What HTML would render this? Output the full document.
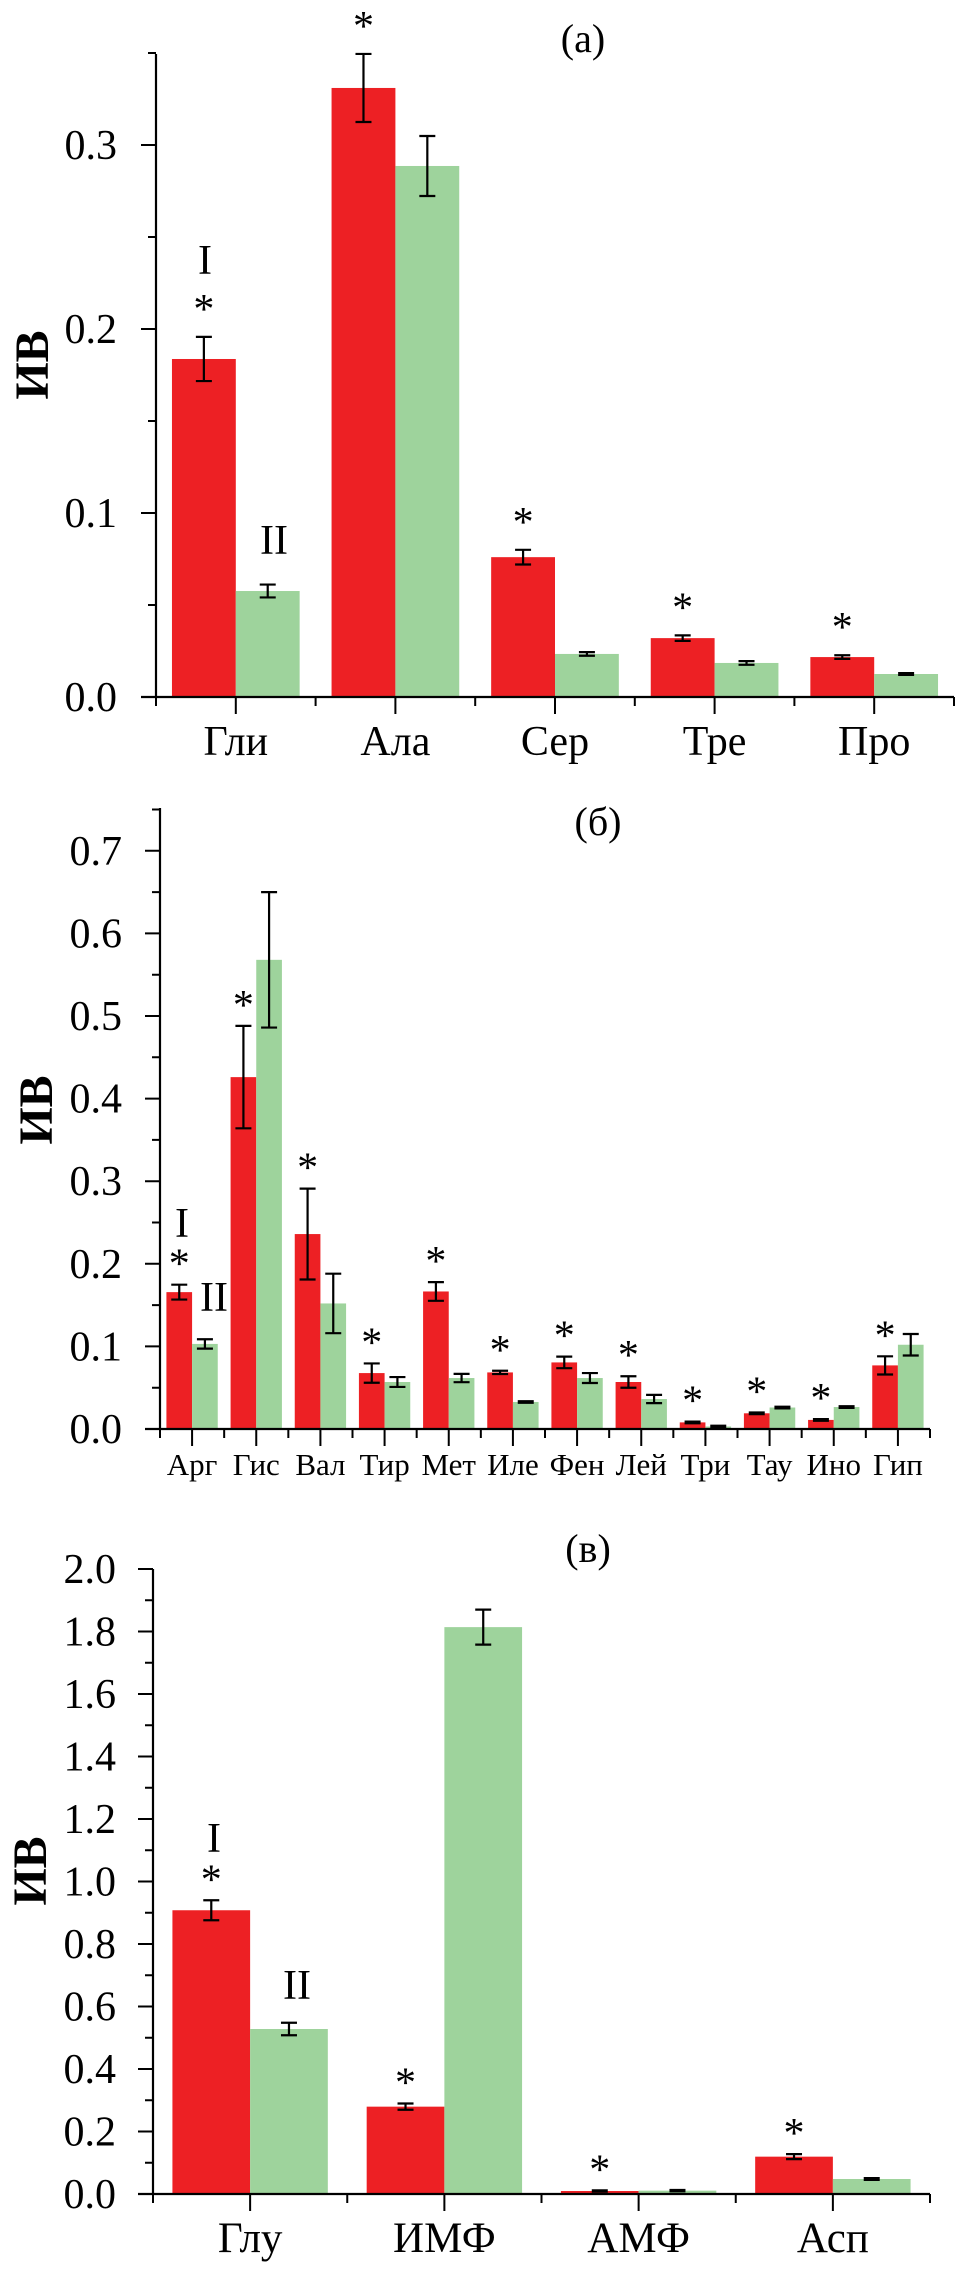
<!DOCTYPE html>
<html><head><meta charset="utf-8"><style>
body{margin:0;background:#fff}
svg text{font-family:"Liberation Serif",serif;fill:#000}
</style></head><body>
<svg id="fig" xmlns="http://www.w3.org/2000/svg" width="959" height="2269" viewBox="0 0 959 2269"></svg>
<script>
// Panel (a)
const catsA = ["Гли","Ала","Сер","Тре","Про"];
const redA = [0.1837,0.331,0.076,0.032,0.0217];
const redErrA = [0.012,0.0185,0.004,0.0015,0.001];
const greenA = [0.0576,0.2886,0.0234,0.0185,0.0125];
const greenErrA = [0.0035,0.0163,0.001,0.001,0.0005];
const starA = [1,1,1,1,1];
const ticksA = ["0.0","0.1","0.2","0.3"];
// Panel (б)
const catsB = ["Арг","Гис","Вал","Тир","Мет","Иле","Фен","Лей","Три","Тау","Ино","Гип"];
const redB = [0.1657,0.426,0.236,0.0677,0.1665,0.0685,0.0806,0.0569,0.008,0.019,0.011,0.077];
const redErrB = [0.009,0.062,0.055,0.0117,0.0113,0.002,0.007,0.007,0.001,0.001,0.001,0.011];
const greenB = [0.103,0.568,0.152,0.0569,0.0617,0.0327,0.0617,0.0363,0.003,0.026,0.0266,0.102];
const greenErrB = [0.0057,0.082,0.036,0.006,0.005,0.001,0.006,0.005,0.001,0.001,0.001,0.013];
const starB = [1,1,1,1,1,1,1,1,1,1,1,1];
const ticksB = ["0.0","0.1","0.2","0.3","0.4","0.5","0.6","0.7"];
// Panel (в)
const catsC = ["Глу","ИМФ","АМФ","Асп"];
const redC = [0.908,0.2795,0.0096,0.1195];
const redErrC = [0.032,0.01,0.002,0.008];
const greenC = [0.528,1.814,0.0107,0.048];
const greenErrC = [0.02,0.056,0.002,0.003];
const starC = [1,1,1,1];
const ticksC = ["0.0","0.2","0.4","0.6","0.8","1.0","1.2","1.4","1.6","1.8","2.0"];

const NS="http://www.w3.org/2000/svg";
const svg=document.getElementById('fig');
function mk(tag,attrs,parent){const e=document.createElementNS(NS,tag);for(const k in attrs)e.setAttribute(k,attrs[k]);(parent||svg).appendChild(e);return e;}
function txt(s,attrs,parent){const e=mk('text',attrs,parent);e.textContent=s;return e;}

function panel(o){
  const g=mk('g',{});
  
  
  const y=v=>o.y0-(v/o.tickStep)*o.tickPx;
  const n=o.cats.length, gw=(o.x1-o.x0)/n;
  const xs=i=>o.x0+gw*i;
  for(let i=0;i<n;i++){
    const bw=gw*0.4;
    const rx=xs(i)+gw*0.1, gx=rx+bw;
    const r=mk('rect',{x:rx,y:y(o.red[i]),width:bw,height:o.y0-y(o.red[i]),fill:'#ED2024'},g);
    
    
    const gr=mk('rect',{x:gx,y:y(o.green[i]),width:bw,height:o.y0-y(o.green[i]),fill:'#9ED39C'},g);
    
    
    [[rx,o.red[i],o.redErr[i]],[gx,o.green[i],o.greenErr[i]]].forEach(([bx,v,e])=>{
      const cx=bx+bw/2, t=y(v+e), b=y(v-e), cw=Math.min(8,bw*0.35);
      const eb=mk('path',{d:`M${cx},${t}V${b}M${cx-cw},${t}H${cx+cw}M${cx-cw},${b}H${cx+cw}`,stroke:'#000','stroke-width':2.2,fill:'none'},g);
      
      
    });
    if(o.star[i]){
      const st=txt('*',{x:rx+bw/2,y:y(o.red[i]+o.redErr[i])-o.starGap+21,'font-size':42,'text-anchor':'middle'},g);
      
      
    }
    const lb=txt(o.cats[i],{x:xs(i)+gw/2,y:o.labY,'font-size':o.labFs,'text-anchor':'middle'},g);
    
    
  }
  const ax=mk('path',{d:`M${o.x0},${o.yTop}V${o.y0+1}M${o.x0-15},${o.y0}H${o.x1}`,stroke:'#000','stroke-width':2.2,fill:'none'},g);
  
  
  let d='';
  for(let i=0;i<=n;i++)d+=`M${xs(i)},${o.y0}v9`;
  for(let i=0;i<n;i++)d+=`M${xs(i)+gw/2},${o.y0}v17`;
  o.ticks.forEach((t,k)=>{const ty=y(parseFloat(t));d+=`M${o.x0},${ty}h-15`;
    const mt=y(parseFloat(t)+o.tickStep/2); if(mt>=o.yTop-1)d+=`M${o.x0},${mt}h-8`;
    const tl=txt(t,{x:o.tlx,y:ty+14,'font-size':42,'text-anchor':'end'},g);
    
    
  });
  const tk=mk('path',{d:d,stroke:'#000','stroke-width':2,fill:'none'},g);
  
  
  const tt=txt(o.title,{x:o.titleX,y:o.titleY,'font-size':40,'text-anchor':'middle'},g);
  
  
  const yt=txt('ИВ',{transform:`translate(${o.ivX+16},${o.ivY}) rotate(-90)`,'font-size':48,'font-weight':'bold','text-anchor':'middle'},g);
  
  
  o.notes.forEach(([s,nx,ny])=>{const a=txt(s,{x:nx,y:ny+14,'font-size':42,'text-anchor':'middle'},g);
    
    });
}

panel({name:'panel-a',cats:catsA,red:redA,redErr:redErrA,green:greenA,greenErr:greenErrA,star:starA,ticks:ticksA,
  x0:156,x1:954,y0:697,tickStep:0.1,tickPx:184,yTop:54,starGap:35,labY:755,labFs:42,tlx:117,
  title:'(a)',titleX:583,titleY:52,ivX:32,ivY:365,notes:[['I',205,260],['II',274,540]]});
panel({name:'panel-b',cats:catsB,red:redB,redErr:redErrB,green:greenB,greenErr:greenErrB,star:starB,ticks:ticksB,
  x0:160,x1:930,y0:1429,tickStep:0.1,tickPx:82.6,yTop:808,starGap:28,labY:1475,labFs:31,tlx:122,
  title:'(б)',titleX:598,titleY:835,ivX:36,ivY:1110,notes:[['I',182,1223],['II',214,1297]]});
panel({name:'panel-c',cats:catsC,red:redC,redErr:redErrC,green:greenC,greenErr:greenErrC,star:starC,ticks:ticksC,
  x0:153,x1:930,y0:2194,tickStep:0.2,tickPx:62.5,yTop:1569,starGap:28,labY:2252,labFs:43,tlx:116,
  title:'(в)',titleX:588,titleY:1562,ivX:30,ivY:1871,notes:[['I',214,1838],['II',297,1985]]});
</script>
</body></html>
